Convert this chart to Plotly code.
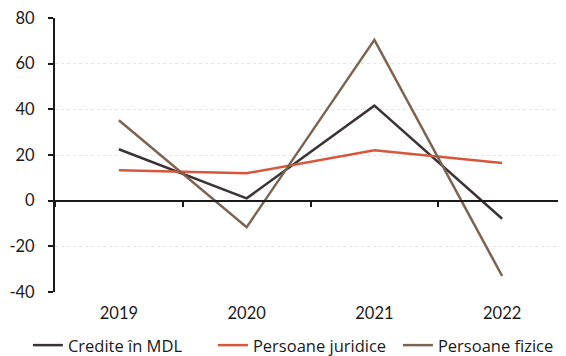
import plotly.graph_objects as go

years = ["2019", "2020", "2021", "2022"]
credite_mdl = [22.5, 1.0, 41.6, -7.9]
persoane_juridice = [13.3, 12.0, 22.1, 16.5]
persoane_fizice = [35.2, -11.6, 70.4, -33.0]
y_ticks = [-40, -20, 0, 20, 40, 60, 80]
y_tick_labels = ["-40", "-20", "0", "20", "40", "60", "80"]

FONT = "Lato"
fig = go.Figure()
fig.add_trace(go.Scatter(x=years, y=credite_mdl, name="Credite în MDL", mode="lines",
                         line=dict(color="#3b3436", width=2.5)))
fig.add_trace(go.Scatter(x=years, y=persoane_juridice, name="Persoane juridice", mode="lines",
                         line=dict(color="#d6573b", width=2.5)))
fig.add_trace(go.Scatter(x=years, y=persoane_fizice, name="Persoane fizice", mode="lines",
                         line=dict(color="#7d6450", width=2.5)))
# helper invisible trace to draw the axis line at zero
fig.add_trace(go.Scatter(x=years, y=[0]*len(years), xaxis="x2", mode="lines",
                         line=dict(color="rgba(0,0,0,0)"), showlegend=False, hoverinfo="skip"))

# the page has an 8px body margin, so the figure is sized to fit the window
fig.update_layout(
    width=558, height=348,
    margin=dict(l=47, r=0, t=10, b=64, autoexpand=False),
    paper_bgcolor="white", plot_bgcolor="white",
    font=dict(family=FONT, size=16.5, color="#1a1a1a"),
    showlegend=True,
    legend=dict(orientation="h", x=-0.053, xanchor="left", y=-0.131, yanchor="top",
                font=dict(family="Open Sans", size=16.5), itemwidth=30, tracegroupgap=0,
                entrywidth=140, entrywidthmode="pixels",
                traceorder="normal"),
    xaxis=dict(type="category", categoryorder="array", categoryarray=years,
               range=[-0.5, 3.5], showline=False, showgrid=False, zeroline=False,
               ticks="outside", ticklen=6, tickcolor="rgba(0,0,0,0)",
               tickfont=dict(size=16.5), automargin=False),
    xaxis2=dict(type="category", categoryorder="array", categoryarray=years,
                range=[-0.5, 3.5], overlaying="x", anchor="free", position=1/3,
                showline=True, linecolor="#1a1a1a", linewidth=2,
                ticks="outside", tickson="boundaries", ticklen=5, tickwidth=2,
                tickcolor="#1a1a1a", showticklabels=False, showgrid=False, zeroline=False),
    yaxis=dict(range=[-40, 80], tickvals=y_ticks, ticktext=y_tick_labels,
               showline=True, linecolor="#1a1a1a",
               linewidth=2, ticks="outside", ticklen=5, tickwidth=2, tickcolor="#1a1a1a",
               showgrid=True, gridcolor="#e6e6e6", gridwidth=1, griddash="dot",
               zeroline=False, ticklabelstandoff=10, tickfont=dict(size=16.5),
               ticklabeloverflow="allow", automargin=False),
)
fig.write_html("out.html")
